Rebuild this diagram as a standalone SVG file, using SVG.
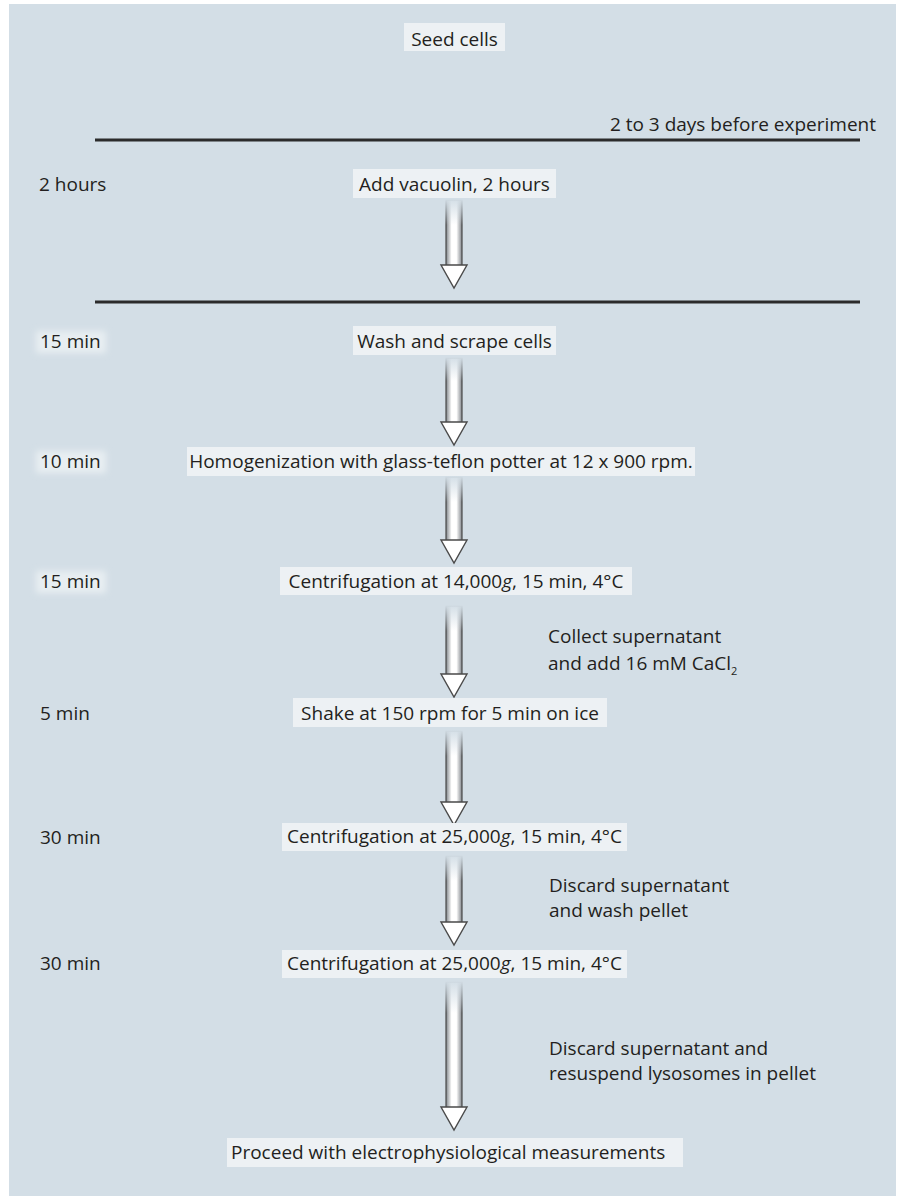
<svg xmlns="http://www.w3.org/2000/svg" width="899" height="1196" viewBox="0 0 899 1196">
<defs>
<style>
text{font-family:"Open Sans","Noto Sans","Liberation Sans",sans-serif;font-size:19px;fill:#231f20}
.box{fill:#edf1f4}
.rule{stroke:#2b2b2b;stroke-width:3}
.shaft{fill:url(#sg);stroke:#4a4a4a;stroke-width:1.2}
.head{fill:#ffffff;stroke:#4a4a4a;stroke-width:1.4;stroke-linejoin:miter}
.fade{fill:url(#fg)}
.halo{fill:#e8eef2;filter:url(#blur)}
</style>
<linearGradient id="sg" x1="0" y1="0" x2="1" y2="0">
<stop offset="0" stop-color="#80858a"/>
<stop offset="0.35" stop-color="#ffffff"/>
<stop offset="0.65" stop-color="#ffffff"/>
<stop offset="1" stop-color="#80858a"/>
</linearGradient>
<linearGradient id="fg" x1="0" y1="0" x2="0" y2="1">
<stop offset="0" stop-color="#d3dee6" stop-opacity="1"/>
<stop offset="1" stop-color="#d3dee6" stop-opacity="0"/>
</linearGradient>
<filter id="blur" x="-20%" y="-50%" width="140%" height="200%"><feGaussianBlur stdDeviation="3"/></filter>
</defs>
<rect x="0" y="0" width="899" height="1196" fill="#ffffff"/>
<rect x="9" y="4" width="887" height="1192" fill="#d3dee6"/>

<g id="rules">
<line class="rule" x1="95" y1="140" x2="860" y2="140"/>
<line class="rule" x1="95" y1="302" x2="860" y2="302"/>
</g>

<g id="connectors">
<g id="a1"><rect class="shaft" x="446" y="200" width="16" height="66"/><rect class="fade" x="444" y="199" width="20" height="26"/><polygon class="head" points="441,265 467,265 454,288"/></g>
<g id="a2"><rect class="shaft" x="446" y="358" width="16" height="65"/><rect class="fade" x="444" y="357" width="20" height="24"/><polygon class="head" points="441,422 467,422 454,445"/></g>
<g id="a3"><rect class="shaft" x="446" y="477" width="16" height="64"/><rect class="fade" x="444" y="476" width="20" height="26"/><polygon class="head" points="441,540 467,540 454,563"/></g>
<g id="a4"><rect class="shaft" x="446" y="606" width="16" height="69"/><rect class="fade" x="444" y="605" width="20" height="26"/><polygon class="head" points="441,674 467,674 454,697"/></g>
<g id="a5"><rect class="shaft" x="446" y="731" width="16" height="72"/><rect class="fade" x="444" y="730" width="20" height="26"/><polygon class="head" points="441,802 467,802 454,825"/></g>
<g id="a6"><rect class="shaft" x="446" y="856" width="16" height="67"/><rect class="fade" x="444" y="855" width="20" height="26"/><polygon class="head" points="441,922 467,922 454,945"/></g>
<g id="a7"><rect class="shaft" x="446" y="982" width="16" height="126"/><rect class="fade" x="444" y="981" width="20" height="32"/><polygon class="head" points="441,1107 467,1107 454,1130"/></g>
</g>

<g id="n-seed"><rect class="box" x="404" y="23" width="101" height="28"/><text x="454.5" y="46" text-anchor="middle">Seed cells</text></g>
<g id="n-days"><text x="876" y="131" text-anchor="end">2 to 3 days before experiment</text></g>
<g id="t-2h"><text x="39" y="191">2 hours</text></g>
<g id="n-vacuolin"><rect class="box" x="353" y="169" width="203" height="29"/><text x="454.5" y="191" text-anchor="middle">Add vacuolin, 2 hours</text></g>

<g id="t-15a"><rect class="halo" x="36" y="331" width="70" height="22"/><text x="40" y="348">15 min</text></g>
<g id="n-wash"><rect class="box" x="353" y="326" width="203" height="29"/><text x="454.5" y="348" text-anchor="middle">Wash and scrape cells</text></g>

<g id="t-10"><rect class="halo" x="36" y="451" width="70" height="22"/><text x="40" y="468">10 min</text></g>
<g id="n-homog"><rect class="box" x="187" y="447" width="508" height="29"/><text x="441" y="468" text-anchor="middle">Homogenization with glass-teflon potter at 12 x 900 rpm.</text></g>

<g id="t-15b"><rect class="halo" x="36" y="571" width="70" height="22"/><text x="40" y="588">15 min</text></g>
<g id="n-cent1"><rect class="box" x="280" y="567" width="352" height="28"/><text x="456" y="588" text-anchor="middle">Centrifugation at 14,000<tspan font-style="italic">g</tspan>, 15 min, 4°C</text></g>

<g id="l-collect"><text x="548" y="643">Collect supernatant</text><text x="548" y="670">and add 16 mM CaCl<tspan font-size="11" dy="5">2</tspan></text></g>

<g id="t-5"><text x="40" y="720">5 min</text></g>
<g id="n-shake"><rect class="box" x="293" y="698" width="314" height="29"/><text x="450" y="720" text-anchor="middle">Shake at 150 rpm for 5 min on ice</text></g>

<g id="t-30a"><text x="40" y="844">30 min</text></g>
<g id="n-cent2"><rect class="box" x="282" y="823" width="345" height="28"/><text x="454.5" y="843" text-anchor="middle">Centrifugation at 25,000<tspan font-style="italic">g</tspan>, 15 min, 4°C</text></g>

<g id="l-discard1"><text x="549" y="892">Discard supernatant</text><text x="549" y="917">and wash pellet</text></g>

<g id="t-30b"><text x="40" y="970">30 min</text></g>
<g id="n-cent3"><rect class="box" x="282" y="950" width="345" height="28"/><text x="454.5" y="970" text-anchor="middle">Centrifugation at 25,000<tspan font-style="italic">g</tspan>, 15 min, 4°C</text></g>

<g id="l-discard2"><text x="549" y="1055">Discard supernatant and</text><text x="549" y="1080">resuspend lysosomes in pellet</text></g>

<g id="n-proceed"><rect class="box" x="227" y="1138" width="456" height="29"/><text x="231" y="1159">Proceed with electrophysiological measurements</text></g>
</svg>
